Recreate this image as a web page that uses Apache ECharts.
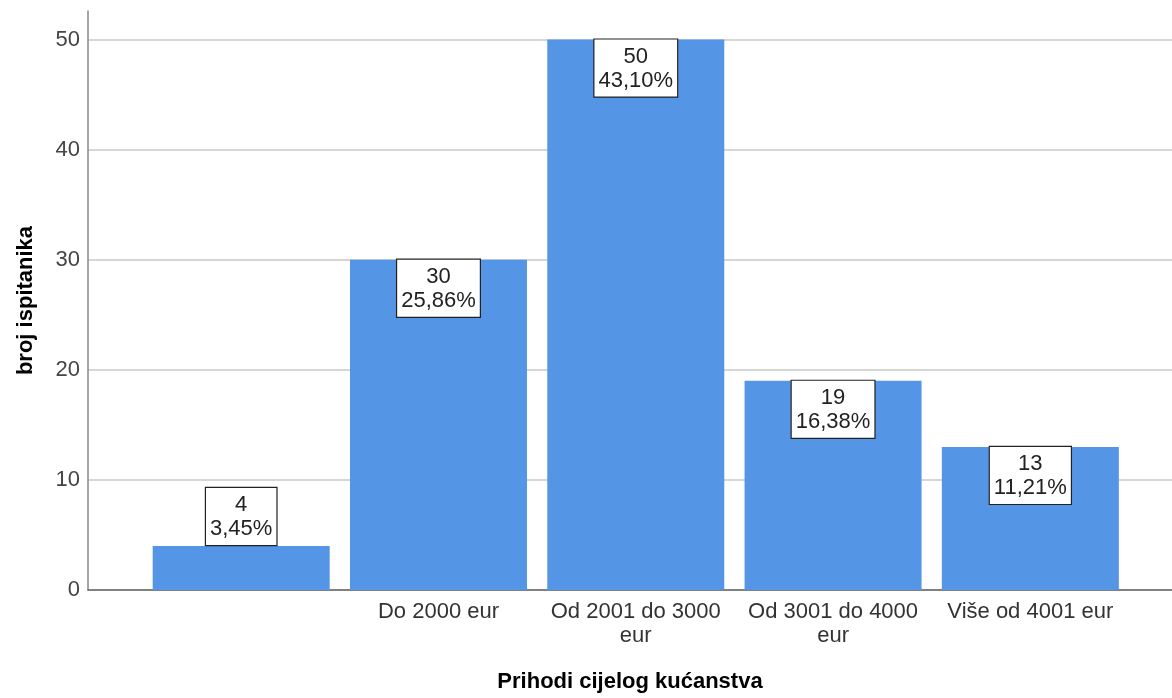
<!DOCTYPE html>
<html>
<head>
<meta charset="utf-8">
<script src="https://cdn.jsdelivr.net/npm/echarts@6/dist/echarts.min.js"></script>
<style>
html,body{margin:0;padding:0;background:#fff;}
#chart{width:1172px;height:698px;}
</style>
</head>
<body>
<div id="chart"></div>
<script>
var categories = ['', 'Do 2000 eur', 'Od 2001 do 3000\neur', 'Od 3001 do 4000\neur', 'Više od 4001 eur'];
var counts = [4, 30, 50, 19, 13];
var percents = ['3,45%', '25,86%', '43,10%', '16,38%', '11,21%'];
var yTicks = [0, 10, 20, 30, 40, 50];

var FONT = 'Arial, "Liberation Sans", sans-serif';
var chart = echarts.init(document.getElementById('chart'), null, {renderer: 'canvas'});

var seriesData = counts.map(function (v, i) {
  return {
    value: [i, v],
    pct: percents[i],
    label: { position: v < 8 ? 'top' : 'insideTop', distance: v < 8 ? 1 : 0 }
  };
});

chart.setOption({
  animation: false,
  backgroundColor: '#ffffff',
  grid: { left: 88, right: 0, top: 11, bottom: 103, containLabel: false },
  xAxis: {
    type: 'value',
    min: -0.7765,
    max: 4.718,
    name: 'Prihodi cijelog kućanstva',
    nameLocation: 'middle',
    nameGap: 81,
    nameTextStyle: { fontFamily: FONT, fontSize: 22, fontWeight: 'bold', color: '#000' },
    axisLine: { show: true, onZero: false, lineStyle: { color: '#666', width: 1.5 } },
    axisTick: { show: false, customValues: [0, 1, 2, 3, 4] },
    splitLine: { show: false },
    axisLabel: {
      customValues: [0, 1, 2, 3, 4],
      formatter: function (v) { return categories[Math.round(v)]; },
      fontFamily: FONT, fontSize: 22, color: '#333', lineHeight: 24, margin: 10, align: 'center'
    }
  },
  yAxis: {
    type: 'value',
    min: 0,
    max: 52.6,
    interval: 10,
    name: 'broj ispitanika',
    nameLocation: 'middle',
    nameGap: 51,
    nameRotate: 90,
    nameTextStyle: { fontFamily: FONT, fontSize: 22, fontWeight: 'bold', color: '#000' },
    axisLine: { show: true, onZero: false, lineStyle: { color: '#888', width: 1.5 } },
    axisTick: { show: false, customValues: yTicks },
    axisLabel: {
      customValues: yTicks,
      fontFamily: FONT, fontSize: 22, color: '#444', margin: 8
    },
    splitLine: { show: true, lineStyle: { color: '#c8c8c8', width: 1.5 } }
  },
  series: [{
    type: 'bar',
    barWidth: 177,
    data: seriesData,
    itemStyle: { color: '#5595e5' },
    label: {
      show: true,
      formatter: function (p) { return p.value[1] + '\n' + p.data.pct; },
      fontFamily: FONT, fontSize: 22, color: '#222', lineHeight: 24,
      backgroundColor: '#fff', borderColor: '#222', borderWidth: 1.2,
      padding: [5, 4, 4, 4], align: 'center'
    }
  }]
});
</script>
</body>
</html>
